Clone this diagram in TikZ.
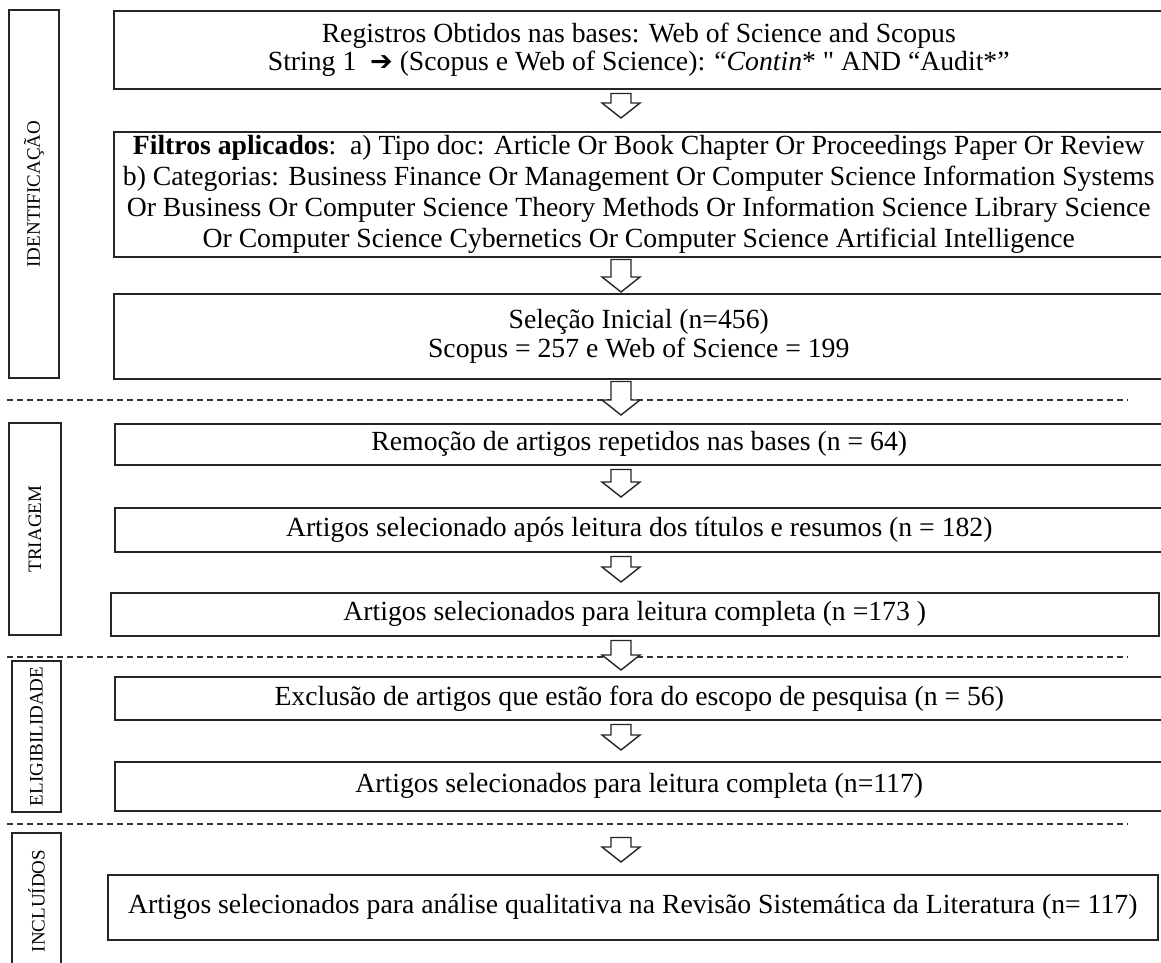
\documentclass[tikz,border=0pt]{standalone}
\usepackage{fontspec}
\setmainfont{Liberation Serif}
\newfontfamily\rawserif[Ligatures=TeXOff]{Liberation Serif}
\newfontfamily\dejavu{DejaVu Sans}
\usetikzlibrary{calc}
\tikzset{
  box/.style={draw=black!85, line width=1.5pt, rectangle, inner sep=0pt, align=center,
    font=\fontsize{27.7}{28.5}\selectfont, anchor=north west},
  lbl/.style={draw=black!85, line width=1.5pt, rectangle, inner sep=0pt, rotate=90,
    font=\fontsize{19}{20}\selectfont},
  sep/.style={draw=black!80, line width=1.2pt, dash pattern=on 6pt off 4pt},
  hollow/.style={draw=black!85, line width=1.4pt, fill=white, line join=miter},
}
\newcommand\blockarrow[4]{%
  \draw[hollow] let \p1=($(#1.south -| ax)+(0,#2)$), \p2=($(#3.north -| ax)+(0,-#4)$) in
    (\x1-10pt,\y1) -- (\x1+10pt,\y1) -- (\x1+10pt,\y2+15pt) -- (\x1+19pt,\y2+15pt)
    -- (\x1,\y2) -- (\x1-19pt,\y2+15pt) -- (\x1-10pt,\y2+15pt) -- cycle;}
\begin{document}
\begin{tikzpicture}[x=1pt,y=-1pt]
\useasboundingbox (0,0) rectangle (1161,962);
\coordinate (ax) at (621,0);

% side labels
\node[lbl, minimum width=368pt, minimum height=50pt] (l1) at (34,194) {IDENTIFICAÇÃO};
\node[lbl, minimum width=212pt, minimum height=52pt] (l2) at (35,529) {TRIAGEM};
\node[lbl, minimum width=151pt, minimum height=49pt] (l3) at (36.5,736.5) {ELIGIBILIDADE};
\node[lbl, minimum width=136pt, minimum height=49pt] (l4) at (36.5,901) {INCLUÍDOS};

% boxes
\node[box, minimum width=1050pt, minimum height=78pt] (b1) at (113,10)
  {Registros Obtidos nas bases: Web of Science and Scopus\\
   String 1\ \ {\dejavu\fontsize{27}{27}\selectfont ➔} (Scopus e Web of Science): “\textit{Contin}* {\rawserif "} AND “Audit*”};
\node[box, minimum width=1050pt, minimum height=125pt, font=\fontsize{27.7}{31}\selectfont] (b2) at (113,131)
  {\textbf{Filtros aplicados}:\ \ a) Tipo doc: Article Or Book Chapter Or Proceedings Paper Or Review\\
   b) Categorias: Business Finance Or Management Or Computer Science Information Systems\\
   Or Business Or Computer Science Theory Methods Or Information Science Library Science\\
   Or Computer Science Cybernetics Or Computer Science Artificial Intelligence};
\node[box, minimum width=1050pt, minimum height=85pt] (b3) at (113,293)
  {Seleção Inicial (n=456)\\ Scopus = 257 e Web of Science = 199};
\node[box, minimum width=1049pt, minimum height=41pt] (b4) at (114,423)
  {Remoção de artigos repetidos nas bases (n = 64)};
\node[box, minimum width=1049pt, minimum height=44pt] (b5) at (114,507)
  {Artigos selecionado após leitura dos títulos e resumos (n = 182)};
\node[box, minimum width=1048pt, minimum height=43pt] (b6) at (110,592)
  {Artigos selecionados para leitura completa (n =173\ )};
\node[box, minimum width=1049pt, minimum height=43pt] (b7) at (114,676)
  {Exclusão de artigos que estão fora do escopo de pesquisa (n = 56)};
\node[box, minimum width=1049pt, minimum height=49pt] (b8) at (114,761)
  {Artigos selecionados para leitura completa (n=117)};
\node[box, minimum width=1050pt, minimum height=65pt] (b9) at (107,874)
  {Artigos selecionados para análise qualitativa na Revisão Sistemática da Literatura (n= 117)};

% dashed separators
\draw[sep] (7,400) -- (1128,400);
\draw[sep] (7,657) -- (1128,657);
\draw[sep] (7,824) -- (1128,824);

% block arrows
\blockarrow{b1}{4}{b2}{13}
\blockarrow{b2}{2}{b3}{1}
\blockarrow{b3}{2}{b4}{8}
\blockarrow{b4}{4}{b5}{10}
\blockarrow{b5}{4}{b6}{10}
\blockarrow{b6}{4}{b7}{6}
\blockarrow{b7}{4}{b8}{11}
\blockarrow{b8}{26}{b9}{12}
\end{tikzpicture}
\end{document}
